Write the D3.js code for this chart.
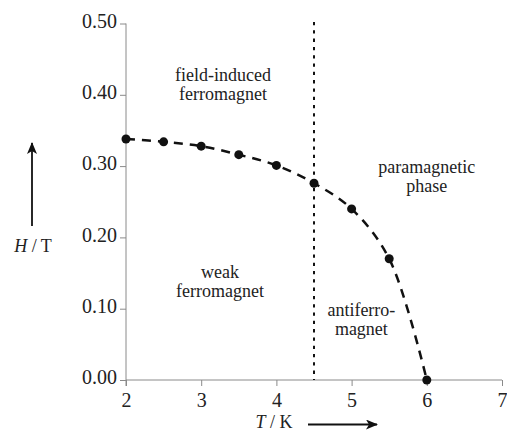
<!DOCTYPE html>
<html><head><meta charset="utf-8">
<script src="https://cdn.jsdelivr.net/npm/d3@7"></script>
<style>html,body{margin:0;padding:0;background:#fff;} svg{display:block;font-family:"Liberation Serif","DejaVu Serif",serif;}</style>
</head><body>
<svg id="c" width="507" height="432"></svg>
<script>
const temps = [2, 2.5, 3, 3.5, 4, 4.5, 5, 5.5, 6];
const fields = [0.338, 0.334, 0.328, 0.316, 0.301, 0.276, 0.240, 0.170, 0.0];
const xTicks = [2, 3, 4, 5, 6, 7];
const yTicks = [0.00, 0.10, 0.20, 0.30, 0.40, 0.50];
const boundaryT = 4.5;
const regionLabels = [
  {lines: ["field-induced", "ferromagnet"], t: 3.29, h: 0.419},
  {lines: ["paramagnetic", "phase"], t: 6.0, h: 0.290},
  {lines: ["weak", "ferromagnet"], t: 3.25, h: 0.143},
  {lines: ["antiferro-", "magnet"], t: 5.13, h: 0.090}
];

const svg = d3.select("#c");
const x = d3.scaleLinear().domain([2, 7]).range([126, 502]);
const y = d3.scaleLinear().domain([0, 0.5]).range([380, 23.5]);
const axisCol = "#8a8a8a";

// x axis
const gx = svg.append("g").attr("transform", "translate(0,380)")
  .call(d3.axisBottom(x).tickValues(xTicks).tickSize(6).tickPadding(5).tickFormat(d3.format("d")));
gx.select(".domain").attr("stroke", axisCol).attr("d", `M${x(2)},0H${x(7)}`);
gx.selectAll(".tick line").attr("stroke", axisCol);
gx.selectAll(".tick text").attr("font-family", "Liberation Serif").attr("font-size", 20).attr("fill", "#222").attr("dy", "0.78em");

// y axis
const gy = svg.append("g").attr("transform", "translate(126,0)")
  .call(d3.axisLeft(y).tickValues(yTicks).tickSize(6).tickPadding(3).tickFormat(d3.format(".2f")));
gy.select(".domain").attr("stroke", axisCol).attr("d", `M0,${y(0.5)}V386`);
gy.selectAll(".tick line").attr("stroke", axisCol);
gy.selectAll(".tick text").attr("font-family", "Liberation Serif").attr("font-size", 20).attr("fill", "#222").attr("dy", "0.18em");

// dotted vertical boundary
svg.append("line")
  .attr("x1", x(boundaryT)).attr("x2", x(boundaryT))
  .attr("y1", 22).attr("y2", 380)
  .attr("stroke", "#111").attr("stroke-width", 2).attr("stroke-dasharray", "3.3,5");

// dashed curve
const line = d3.line().x((d, i) => x(temps[i])).y((d, i) => y(fields[i])).curve(d3.curveCatmullRom.alpha(0.5));
svg.append("path").datum(temps).attr("d", line)
  .attr("fill", "none").attr("stroke", "#111").attr("stroke-width", 2.5).attr("stroke-dasharray", "9,7");

svg.selectAll("circle.pt").data(temps).enter().append("circle")
  .attr("cx", (d) => x(d)).attr("cy", (d, i) => y(fields[i])).attr("r", 4.5).attr("fill", "#111");

// region labels
regionLabels.forEach(r => {
  const t = svg.append("text").attr("text-anchor", "middle").attr("font-size", 18).attr("fill", "#222")
    .attr("x", x(r.t)).attr("y", y(r.h));
  r.lines.forEach((l, i) => t.append("tspan").attr("x", x(r.t)).attr("dy", i === 0 ? 0 : 19).text(l));
});

// axis titles with arrows
const defs = svg.append("defs");
defs.append("marker").attr("id", "ah").attr("viewBox", "0 0 12 10").attr("refX", 11).attr("refY", 5)
  .attr("markerWidth", 12).attr("markerHeight", 10).attr("markerUnits", "userSpaceOnUse").attr("orient", "auto")
  .append("path").attr("d", "M0,0 L12,5 L0,10 L3,5 Z").attr("fill", "#111");

const hT = svg.append("text").attr("x", 33).attr("y", 252).attr("text-anchor", "middle").attr("font-size", 18).attr("fill", "#222");
hT.append("tspan").attr("font-style", "italic").text("H");
hT.append("tspan").text(" / T");
svg.append("line").attr("x1", 32).attr("x2", 32).attr("y1", 226).attr("y2", 143)
  .attr("stroke", "#111").attr("stroke-width", 1.8).attr("marker-end", "url(#ah)");

const tK = svg.append("text").attr("x", 274).attr("y", 428).attr("text-anchor", "middle").attr("font-size", 18).attr("fill", "#222");
tK.append("tspan").attr("font-style", "italic").text("T");
tK.append("tspan").text(" / K");
svg.append("line").attr("x1", 308).attr("x2", 377).attr("y1", 424.5).attr("y2", 424.5)
  .attr("stroke", "#111").attr("stroke-width", 1.8).attr("marker-end", "url(#ah)");
</script>
</body></html>
